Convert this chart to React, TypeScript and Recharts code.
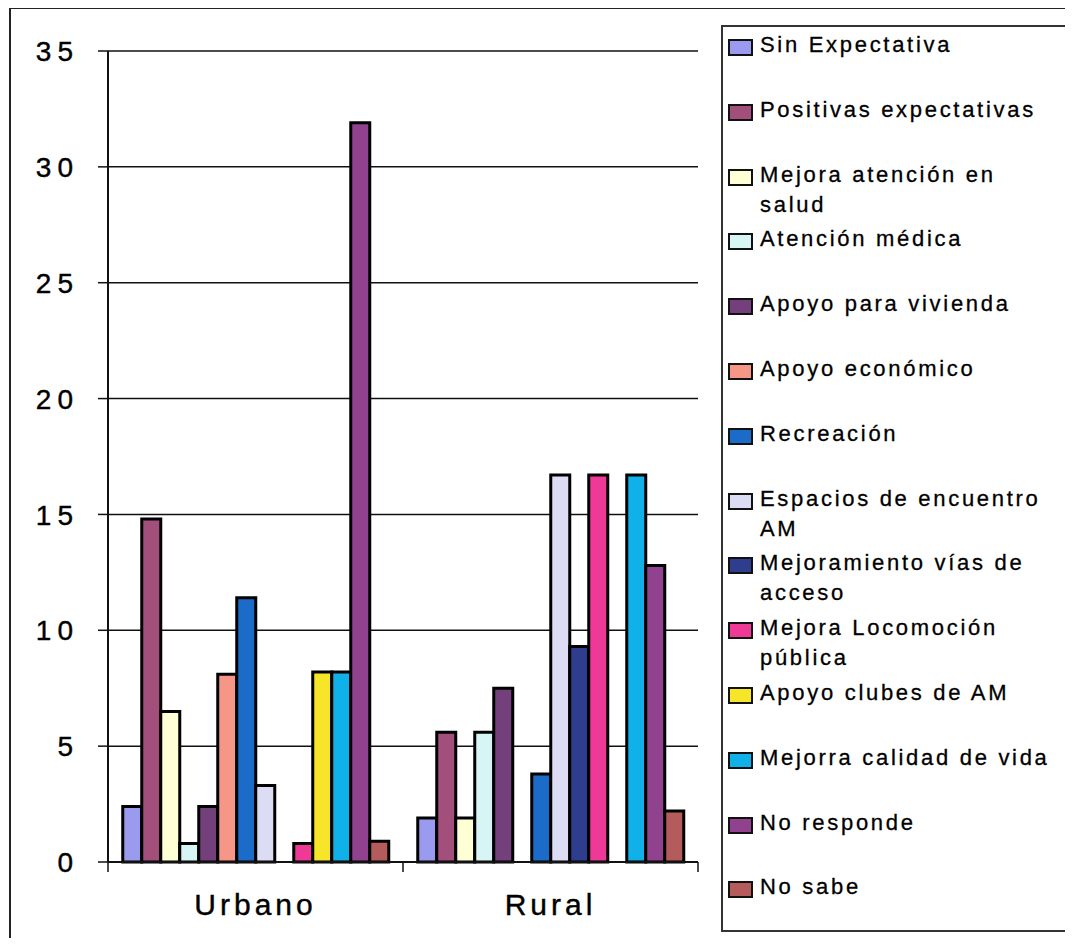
import { Bar, BarChart, CartesianGrid, Cell, Legend, XAxis, YAxis } from "recharts";

const categories = ["Urbano", "Rural"];

const seriesNames = [
  "Sin Expectativa",
  "Positivas expectativas",
  "Mejora atención en salud",
  "Atención médica",
  "Apoyo para vivienda",
  "Apoyo económico",
  "Recreación",
  "Espacios de encuentro AM",
  "Mejoramiento vías de acceso",
  "Mejora Locomoción pública",
  "Apoyo clubes de AM",
  "Mejorra calidad de vida",
  "No responde",
  "No sabe",
];

// how the legend wraps each label, as in the original
const legendLines = [
  ["Sin Expectativa"],
  ["Positivas expectativas"],
  ["Mejora atención en", "salud"],
  ["Atención médica"],
  ["Apoyo para vivienda"],
  ["Apoyo económico"],
  ["Recreación"],
  ["Espacios de encuentro", "AM"],
  ["Mejoramiento vías de", "acceso"],
  ["Mejora Locomoción", "pública"],
  ["Apoyo clubes de AM"],
  ["Mejorra calidad de vida"],
  ["No responde"],
  ["No sabe"],
];

const urbanoValues = [2.4, 14.8, 6.5, 0.8, 2.4, 8.1, 11.4, 3.3, 0, 0.8, 8.2, 8.2, 31.9, 0.9];
const ruralValues = [1.9, 5.6, 1.9, 5.6, 7.5, 0, 3.8, 16.7, 9.3, 16.7, 0, 16.7, 12.8, 2.2];

const yTicks = [0, 5, 10, 15, 20, 25, 30, 35];

const colors = [
  "#9a9aee",
  "#a24f7c",
  "#ffffd6",
  "#d8f5f5",
  "#74407c",
  "#f59687",
  "#1a6cc8",
  "#dcdcf4",
  "#2e3d8e",
  "#ee3a96",
  "#f7e52a",
  "#10b0e8",
  "#91428e",
  "#b45c5c",
];

const rows = categories.map((name, ci) => {
  const vals = ci === 0 ? urbanoValues : ruralValues;
  const row: Record<string, string | number> = { name };
  seriesNames.forEach((s, i) => {
    row[s] = vals[i];
  });
  return row;
});

const FONT = '"Liberation Sans", Arial, sans-serif';
const W = 1057;
const H = 930;
const margin = { top: 43, right: 367, bottom: 30, left: 0 };
const Y_W = 100;
const BAND = (W - margin.left - margin.right - Y_W) / categories.length;

function YTick(props: any) {
  const { x, y, payload } = props;
  return (
    <text
      x={x}
      y={y}
      dy="0.36em"
      textAnchor="end"
      fill="#000"
      stroke="#000"
      strokeWidth={0.4}
      style={{ fontFamily: FONT, fontSize: 28, letterSpacing: 6 }}
    >
      {payload.value}
    </text>
  );
}

function XTick(props: any) {
  const { x, y, payload, index } = props;
  const half = BAND / 2;
  return (
    <g>
      <line x1={x - half} y1={y} x2={x - half} y2={y + 10} stroke="#111" strokeWidth={1.5} />
      {index === categories.length - 1 && (
        <line x1={x + half} y1={y} x2={x + half} y2={y + 10} stroke="#111" strokeWidth={1.5} />
      )}
      <text
        x={x}
        y={y + 53}
        textAnchor="middle"
        fill="#000"
        stroke="#000"
        strokeWidth={0.4}
        style={{ fontFamily: FONT, fontSize: 30, letterSpacing: 4 }}
      >
        {payload.value}
      </text>
    </g>
  );
}

function LegendBox() {
  return (
    <div
      style={{
        width: "100%",
        height: "100%",
        boxSizing: "border-box",
        border: "2px solid #333",
        background: "#fff",
        fontFamily: FONT,
        fontSize: 22,
        letterSpacing: 2.7,
        color: "#000",
        WebkitTextStroke: "0.3px #000",
      }}
    >
      {legendLines.map((lines, i) => (
        <div key={i} style={{ position: "relative", height: 64.8 }}>
          <div
            style={{
              position: "absolute",
              left: 5,
              top: 12,
              width: 25,
              height: 17,
              boxSizing: "border-box",
              border: "2px solid #111",
              background: colors[i],
            }}
          />
          <div style={{ position: "absolute", left: 37, top: 3, lineHeight: "30px", whiteSpace: "nowrap" }}>
            {lines.map((l, j) => (
              <div key={j}>{l}</div>
            ))}
          </div>
        </div>
      ))}
    </div>
  );
}

export default function App() {
  return (
    <div style={{ position: "relative", width: W, height: H }}>
      <div
        style={{
          position: "absolute",
          left: 1,
          top: -1,
          width: 1064,
          height: 940,
          boxSizing: "border-box",
          border: "2px solid #222",
          borderRight: "none",
        }}
      />
      <BarChart width={W} height={H} data={rows} margin={margin} barCategoryGap="5%" barGap={0}>
        <CartesianGrid vertical={false} stroke="#111" strokeWidth={1.5} />
        <XAxis
          dataKey="name"
          height={46}
          tickLine={false}
          tickSize={0}
          tickMargin={0}
          axisLine={{ stroke: "#111", strokeWidth: 2 }}
          tick={<XTick />}
          interval={0}
        />
        <YAxis
          domain={[0, 35]}
          ticks={yTicks}
          width={Y_W}
          tickSize={10}
          tickMargin={19}
          axisLine={{ stroke: "#111", strokeWidth: 2 }}
          tickLine={{ stroke: "#111", strokeWidth: 1.5 }}
          tick={<YTick />}
        />
        <YAxis
          yAxisId="frame"
          orientation="right"
          domain={[0, 35]}
          width={0}
          tick={false}
          tickLine={false}
          axisLine={{ stroke: "#111", strokeWidth: 2 }}
        />
        <Legend
          layout="horizontal"
          verticalAlign="middle"
          align="center"
          wrapperStyle={{ position: "absolute", left: 713, top: 17, width: 348, height: 907, margin: 0 }}
          content={() => <LegendBox />}
        />
        {seriesNames.map((s, i) => (
          <Bar key={s} dataKey={s} fill={colors[i]} stroke="#000" strokeWidth={3} isAnimationActive={false}>
            {rows.map((_, ri) => (
              <Cell key={ri} fill={colors[i]} stroke="#000" strokeWidth={3} />
            ))}
          </Bar>
        ))}
      </BarChart>
    </div>
  );
}
